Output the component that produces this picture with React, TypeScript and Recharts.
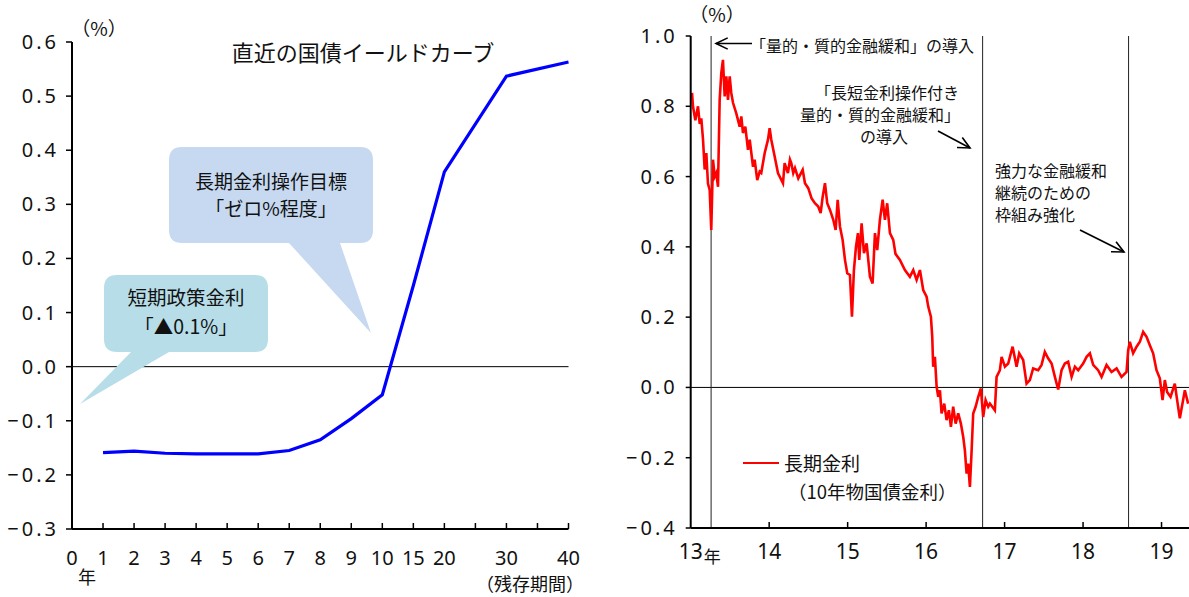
import React from "react";
import { LineChart, Line, XAxis, YAxis, ReferenceLine } from "recharts";

const FONT = '"Noto Sans CJK JP", "Noto Sans", sans-serif';
const NUM_FONT = '"Noto Sans", sans-serif';
const INK = "#111";

// 直近の国債イールドカーブ（残存期間別）
const curveSlotYears = [0, 1, 2, 3, 4, 5, 6, 7, 8, 9, 10, 15, 20, 25, 30, 35, 40];
const curveSlotLabels = ["0", "1", "2", "3", "4", "5", "6", "7", "8", "9", "10", "15", "20", "", "30", "", "40"];
const curveMaturities = [1, 2, 3, 4, 5, 6, 7, 8, 9, 10, 15, 20, 30, 40];
const curveYields = [-0.159, -0.156, -0.16, -0.161, -0.161, -0.161, -0.155, -0.135, -0.096, -0.052, 0.15, 0.36, 0.537, 0.563];
const curveYTicks = [-0.3, -0.2, -0.1, 0, 0.1, 0.2, 0.3, 0.4, 0.5, 0.6];

// 長期金利（10年物国債金利）の推移
const jgbDates = [
  2013.017, 2013.029, 2013.059, 2013.093, 2013.115, 2013.135, 2013.157, 2013.178, 2013.199, 2013.22,
  2013.242, 2013.262, 2013.284, 2013.306, 2013.326, 2013.348, 2013.369, 2013.39, 2013.411, 2013.433,
  2013.454, 2013.475, 2013.497, 2013.517, 2013.539, 2013.581, 2013.624, 2013.645, 2013.666, 2013.696,
  2013.73, 2013.752, 2013.794, 2013.815, 2013.848, 2013.879, 2013.899, 2013.943, 2013.985, 2014.006,
  2014.027, 2014.07, 2014.112, 2014.176, 2014.197, 2014.239, 2014.265, 2014.282, 2014.307, 2014.329,
  2014.371, 2014.427, 2014.456, 2014.498, 2014.541, 2014.583, 2014.625, 2014.656, 2014.682, 2014.711,
  2014.74, 2014.775, 2014.817, 2014.847, 2014.873, 2014.902, 2014.936, 2014.966, 2014.995, 2015.029,
  2015.055, 2015.08, 2015.106, 2015.131, 2015.148, 2015.178, 2015.208, 2015.242, 2015.284, 2015.318,
  2015.348, 2015.377, 2015.411, 2015.446, 2015.475, 2015.504, 2015.539, 2015.581, 2015.61, 2015.666,
  2015.73, 2015.793, 2015.836, 2015.879, 2015.921, 2015.963, 2016.006, 2016.027, 2016.061, 2016.078,
  2016.09, 2016.112, 2016.134, 2016.154, 2016.176, 2016.197, 2016.231, 2016.261, 2016.29, 2016.316,
  2016.345, 2016.376, 2016.409, 2016.443, 2016.473, 2016.494, 2016.516, 2016.536, 2016.558, 2016.58,
  2016.6, 2016.631, 2016.664, 2016.698, 2016.727, 2016.758, 2016.791, 2016.813, 2016.876, 2016.898,
  2016.94, 2016.962, 2017.004, 2017.046, 2017.102, 2017.153, 2017.186, 2017.237, 2017.28, 2017.322,
  2017.364, 2017.428, 2017.471, 2017.513, 2017.555, 2017.599, 2017.641, 2017.683, 2017.726, 2017.768,
  2017.81, 2017.854, 2017.896, 2017.938, 2018.001, 2018.045, 2018.087, 2018.129, 2018.192, 2018.236,
  2018.299, 2018.363, 2018.427, 2018.49, 2018.554, 2018.575, 2018.596, 2018.638, 2018.682, 2018.724,
  2018.766, 2018.809, 2018.851, 2018.893, 2018.936, 2018.978, 2019.013, 2019.042, 2019.071, 2019.115,
  2019.169, 2019.199, 2019.233, 2019.275, 2019.297, 2019.339,
];
const jgbYields = [
  0.838, 0.8, 0.76, 0.8, 0.75, 0.766, 0.705, 0.62, 0.667, 0.58,
  0.562, 0.448, 0.648, 0.6, 0.61, 0.571, 0.818, 0.895, 0.932, 0.828,
  0.885, 0.818, 0.885, 0.838, 0.81, 0.78, 0.742, 0.771, 0.724, 0.742,
  0.676, 0.705, 0.628, 0.648, 0.59, 0.614, 0.61, 0.667, 0.705, 0.738,
  0.705, 0.657, 0.61, 0.581, 0.638, 0.61, 0.648, 0.638, 0.61, 0.624,
  0.595, 0.619, 0.581, 0.567, 0.538, 0.524, 0.515, 0.496, 0.543, 0.581,
  0.524, 0.505, 0.477, 0.448, 0.534, 0.458, 0.42, 0.363, 0.325, 0.32,
  0.201, 0.334, 0.4, 0.439, 0.363, 0.467, 0.382, 0.41, 0.315, 0.296,
  0.439, 0.391, 0.477, 0.534, 0.477, 0.524, 0.439, 0.42, 0.38, 0.363,
  0.334, 0.315, 0.334, 0.306, 0.334, 0.277, 0.258, 0.23, 0.201, 0.144,
  0.059, 0.087, 0.002, -0.027, -0.008, -0.074, -0.046, -0.093, -0.065, -0.112,
  -0.055, -0.103, -0.074, -0.103, -0.141, -0.179, -0.245, -0.217, -0.283, -0.179,
  -0.074, -0.055, -0.027, -0.003, -0.084, -0.036, -0.055, -0.046, -0.065, 0.03,
  0.049, 0.087, 0.059, 0.068, 0.116, 0.059, 0.097, 0.078, 0.011, 0.021,
  0.054, 0.049, 0.064, 0.101, 0.083, 0.068, 0.03, -0.006, 0.049, 0.068,
  0.073, 0.03, 0.059, 0.049, 0.068, 0.087, 0.097, 0.064, 0.049, 0.03,
  0.064, 0.044, 0.054, 0.03, 0.044, 0.106, 0.13, 0.097, 0.116, 0.13,
  0.158, 0.144, 0.12, 0.097, 0.049, 0.026, -0.036, 0.021, -0.013, -0.027,
  0.011, -0.036, -0.088, -0.036, -0.008, -0.046,
];
const jgbYTicks = [-0.4, -0.2, 0, 0.2, 0.4, 0.6, 0.8, 1.0];
const jgbYears = [2013, 2014, 2015, 2016, 2017, 2018, 2019];
// 量的・質的金融緩和／長短金利操作付き／枠組み強化
const policyDates = [2013.26, 2016.72, 2018.58];

const curveData = curveMaturities.map((m, i) => ({
  slot: curveSlotYears.indexOf(m),
  yield: curveYields[i],
}));
const jgbData = jgbDates.map((t, i) => ({ t, v: jgbYields[i] }));

const fmtRate = (v: number) =>
  v < 0 ? "\u2212" + Math.abs(v).toFixed(1) : v.toFixed(1);

const makeYTick = (spacing: number) => ({ x, y, payload }: any) => (
  <text x={x} y={y} dy={7} textAnchor="end" fontSize={20} fontFamily={NUM_FONT}
    letterSpacing={spacing} fill={INK}>
    {fmtRate(payload.value)}
  </text>
);

const CurveXTick = ({ x, y, payload }: any) => {
  const label = curveSlotLabels[payload.value];
  return (
    <g>
      {payload.value > 0 && (
        <line x1={x} x2={x} y1={y} y2={y - 6} stroke="#000" strokeWidth={1.5} />
      )}
      {label && (
        <text x={x} y={y + 36} textAnchor="middle" fontSize={20} fontFamily={NUM_FONT} fill={INK}>
          {label}
        </text>
      )}
    </g>
  );
};

const JgbXTick = ({ x, y, payload }: any) => {
  const yr = payload.value as number;
  return (
    <g>
      {yr > 2013 && <line x1={x} x2={x} y1={y} y2={y - 6} stroke="#000" strokeWidth={1.5} />}
      <text x={x} y={y + 31} textAnchor="middle" fontSize={21} fontFamily={NUM_FONT} fill={INK}>
        {String(yr % 100)}
      </text>
      {yr === 2013 && (
        <text x={x + 13} y={y + 35} fontSize={17} fontFamily={FONT} fill={INK}>年</text>
      )}
    </g>
  );
};

function YieldCurveChart() {
  return (
    <LineChart width={600} height={597} data={curveData}
      margin={{ top: 42, right: 31.5, bottom: 38, left: 12 }}>
      <XAxis type="number" dataKey="slot" domain={[0, 16]} ticks={curveSlotYears.map((_, i) => i)}
        interval={0} height={30} tickSize={0} tickMargin={0} tick={CurveXTick}
        axisLine={{ stroke: "#000", strokeWidth: 2 }} />
      <YAxis type="number" domain={[-0.3, 0.6]} ticks={curveYTicks} interval={0} width={60}
        tickSize={6} tickMargin={7} tick={makeYTick(3)}
        tickLine={{ stroke: "#000", strokeWidth: 1.5 }}
        axisLine={{ stroke: "#000", strokeWidth: 2 }} />
      <ReferenceLine y={0} stroke="#000" strokeWidth={1} />
      <Line type="linear" dataKey="yield" stroke="#0000ff" strokeWidth={3.2}
        dot={false} isAnimationActive={false} />
    </LineChart>
  );
}

function JgbChart() {
  return (
    <LineChart width={589} height={597} data={jgbData}
      margin={{ top: 36, right: 0, bottom: 39, left: 10 }}>
      <XAxis type="number" dataKey="t" domain={[2013, 2019.35]} allowDataOverflow ticks={jgbYears}
        interval={0} height={30} tickSize={0} tickMargin={0} tick={JgbXTick}
        axisLine={{ stroke: "#000", strokeWidth: 2 }} />
      <YAxis type="number" domain={[-0.4, 1.0]} ticks={jgbYTicks} interval={0} width={80.7}
        tickSize={5} tickMargin={8} tick={makeYTick(3)}
        tickLine={{ stroke: "#000", strokeWidth: 1.5 }}
        axisLine={{ stroke: "#000", strokeWidth: 2 }} />
      <ReferenceLine y={0} stroke="#000" strokeWidth={1} />
      {policyDates.map((d) => (
        <ReferenceLine key={d} x={d} stroke="#222" strokeWidth={1} />
      ))}
      <Line type="linear" dataKey="v" stroke="#ff0000" strokeWidth={2.6}
        dot={false} isAnimationActive={false} />
    </LineChart>
  );
}

function Arrow({ x1, y1, x2, y2 }: { x1: number; y1: number; x2: number; y2: number }) {
  const a = Math.atan2(y2 - y1, x2 - x1);
  const len = 13;
  const spread = 0.45;
  const h1x = x2 - len * Math.cos(a - spread);
  const h1y = y2 - len * Math.sin(a - spread);
  const h2x = x2 - len * Math.cos(a + spread);
  const h2y = y2 - len * Math.sin(a + spread);
  return (
    <g stroke="#000" strokeWidth={1.6} fill="none">
      <line x1={x1} y1={y1} x2={x2} y2={y2} />
      <polyline points={`${h1x},${h1y} ${x2},${y2} ${h2x},${h2y}`} />
    </g>
  );
}

function Annotations() {
  return (
    <svg width={1189} height={597} style={{ position: "absolute", left: 0, top: 0, pointerEvents: "none" }}
      fontFamily={FONT} fill={INK}>
      {/* left panel labels */}
      <text x={99} y={36} fontSize={19} textAnchor="middle">（%）</text>
      <text x={363} y={61} fontSize={22} textAnchor="middle">直近の国債イールドカーブ</text>
      <text x={87} y={584} fontSize={18} textAnchor="middle">年</text>
      <text x={530} y={591} fontSize={18} textAnchor="middle">（残存期間）</text>

      {/* callout: long-term target */}
      <path d="M182 147 H360 Q373 147 373 160 V230 Q373 243 360 243 H340 L371 333 L289 243 H182 Q169 243 169 230 V160 Q169 147 182 147 Z"
        fill="#c6d9f1" />
      <text x={271} y={189} fontSize={19} textAnchor="middle">長期金利操作目標</text>
      <text x={271} y={216} fontSize={19} textAnchor="middle">「ゼロ%程度」</text>

      {/* callout: policy rate */}
      <path d="M117 275 H255 Q268 275 268 288 V339 Q268 352 255 352 H169 L80 404 L131 352 H117 Q104 352 104 339 V288 Q104 275 117 275 Z"
        fill="#b7dde8" />
      <text x={186} y={305} fontSize={19.5} textAnchor="middle">短期政策金利</text>
      <text x={186} y={334} fontSize={19.5} textAnchor="middle">「▲0.1%」</text>

      {/* right panel labels */}
      <text x={717} y={22} fontSize={19} textAnchor="middle">（%）</text>

      <Arrow x1={752} y1={43.5} x2={716} y2={43.5} />
      <text x={750} y={52} fontSize={16}>「量的・質的金融緩和」の導入</text>

      <text x={815} y={99} fontSize={16}>「長短金利操作付き</text>
      <text x={800} y={121} fontSize={16}>量的・質的金融緩和」</text>
      <text x={860} y={143} fontSize={16}>の導入</text>
      <Arrow x1={938} y1={131} x2={970} y2={148} />

      <text x={995} y={177} fontSize={16}>強力な金融緩和</text>
      <text x={995} y={199} fontSize={16}>継続のための</text>
      <text x={995} y={221} fontSize={16}>枠組み強化</text>
      <Arrow x1={1080} y1={230} x2={1124} y2={252} />

      {/* legend */}
      <line x1={743} y1={463} x2={779} y2={463} stroke="#ff0000" strokeWidth={2} />
      <text x={784} y={471} fontSize={19}>長期金利</text>
      <text x={788} y={499} fontSize={18.5}>（10年物国債金利）</text>
    </svg>
  );
}

export default function App() {
  return (
    <div style={{ position: "absolute", left: 0, top: 0, width: 1189, height: 597,
      background: "#fff", fontFamily: FONT, overflow: "hidden" }}>
      <div style={{ position: "absolute", left: 0, top: 0 }}>
        <YieldCurveChart />
      </div>
      <div style={{ position: "absolute", left: 600, top: 0 }}>
        <JgbChart />
      </div>
      <Annotations />
    </div>
  );
}
